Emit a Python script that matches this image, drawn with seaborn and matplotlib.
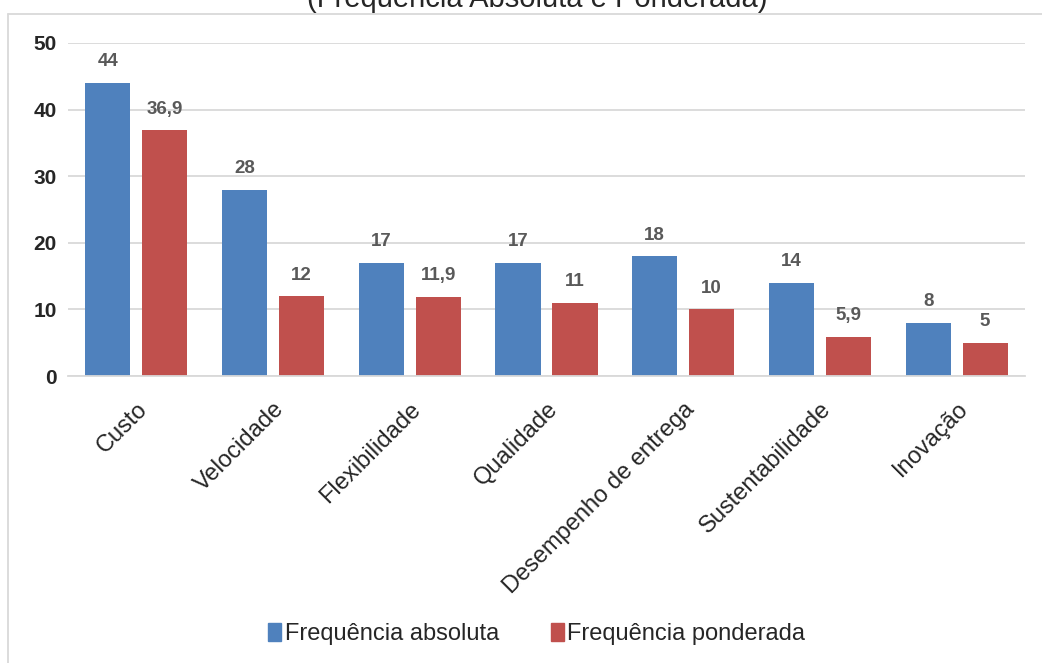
import matplotlib
matplotlib.use("Agg")
import matplotlib.pyplot as plt
from matplotlib.patches import Rectangle
import seaborn as sns
import pandas as pd

categorias = ["Custo", "Velocidade", "Flexibilidade", "Qualidade",
              "Desempenho de entrega", "Sustentabilidade", "Inovação"]
freq_absoluta = [44, 28, 17, 17, 18, 14, 8]
freq_ponderada = [36.9, 12, 11.9, 11, 10, 5.9, 5]
series = ["Frequência absoluta", "Frequência ponderada"]
cores = ["#4F81BD", "#C0504D"]
yticks = [0, 10, 20, 30, 40, 50]

df = pd.DataFrame({
    "categoria": categorias * 2,
    "valor": freq_absoluta + freq_ponderada,
    "serie": [series[0]] * len(categorias) + [series[1]] * len(categorias),
})

sns.set_theme(style="white")
plt.rcParams["font.family"] = ["Liberation Sans", "DejaVu Sans"]

fig = plt.figure(figsize=(10.42, 6.63), dpi=100)
ax = fig.add_axes([68 / 1042, 1 - 376 / 663, (1025 - 68) / 1042, (376 - 43) / 663])

sns.barplot(data=df, x="categoria", y="valor", hue="serie", palette=cores,
            width=0.834, gap=0.21, ax=ax, legend=False, saturation=1,
            edgecolor="none")

ax.set_ylim(0, 50)
ax.set_xlim(-0.5, len(categorias) - 0.5)
ax.set_yticks(yticks)
ax.set_yticklabels([str(v) for v in yticks], fontsize=15, fontweight="bold",
                   color="#262626")
ax.grid(axis="y", color="#D9D9D9", linewidth=1.3)
ax.set_axisbelow(True)
for s in ["top", "right", "left"]:
    ax.spines[s].set_visible(False)
ax.spines["bottom"].set_color("#D9D9D9")
ax.spines["bottom"].set_linewidth(1.3)
ax.tick_params(axis="y", length=0, pad=8)
ax.set_xlabel("")
ax.set_ylabel("")
ax.set_xticks(range(len(categorias)))
ax.set_xticklabels(categorias, rotation=45, ha="right", rotation_mode="anchor",
                   fontsize=17, color="#262626")
ax.tick_params(axis="x", length=0, pad=16)

def fmt(v):
    return str(int(v)) if float(v).is_integer() else f"{v:.1f}".replace(".", ",")

for cont in ax.containers:
    for bar in cont:
        h = bar.get_height()
        ax.annotate(fmt(h), (bar.get_x() + bar.get_width() / 2, h),
                    xytext=(0, 9), textcoords="offset points",
                    ha="center", va="bottom", fontsize=13.5, fontweight="bold",
                    color="#595959")

# legend with square markers at the bottom
handles = [Rectangle((0, 0), 1, 1, color=c) for c in cores]
fig.legend(handles, series, loc="center", bbox_to_anchor=(0.515, 1 - 634 / 663),
           ncol=2, frameon=False, fontsize=17, handlelength=0.55,
           handleheight=0.8, handletextpad=0.15, columnspacing=2.2,
           labelcolor="#262626")

# outer chart frame
fig.add_artist(plt.Line2D([8 / 1042, 8 / 1042], [0, 1 - 14 / 663],
                          transform=fig.transFigure, color="#D9D9D9", lw=1.3))
fig.add_artist(plt.Line2D([8 / 1042, 1], [1 - 14 / 663, 1 - 14 / 663],
                          transform=fig.transFigure, color="#D9D9D9", lw=1.3))

fig.text(0.516, 1 - 7 / 663, "(Frequência Absoluta e Ponderada)",
         ha="center", va="baseline", fontsize=21, color="#262626")

fig.savefig("out.png", dpi=100, facecolor="white")
